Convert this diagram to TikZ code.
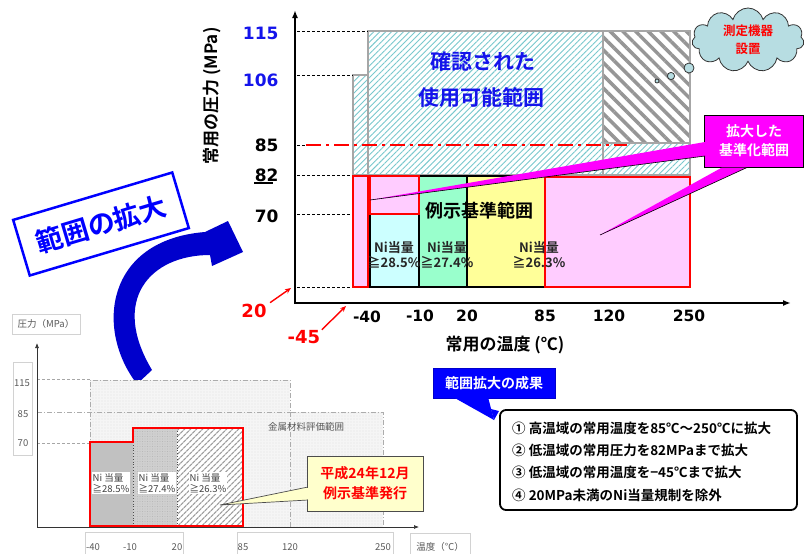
\documentclass[tikz,border=0pt]{standalone}
\usepackage{fontspec}
\setmainfont{DejaVu Sans}
\newfontfamily\jp{Noto Sans CJK JP}[BoldFont={Noto Sans CJK JP Bold}]
\usetikzlibrary{arrows.meta,patterns.meta,shapes.symbols,calc}
\newcommand\fsz[2]{\fontsize{#1}{#2}\selectfont}
\definecolor{pinkc}{RGB}{255,204,255}
\definecolor{cyanc}{RGB}{204,255,255}
\definecolor{greenc}{RGB}{153,255,204}
\definecolor{yellowc}{RGB}{255,255,153}
\definecolor{magc}{RGB}{255,0,255}
\definecolor{grayb}{RGB}{166,166,166}
\definecolor{hatchc}{RGB}{120,200,205}
\definecolor{darkhatch}{RGB}{150,150,150}
\definecolor{cloudc}{RGB}{183,221,226}
\definecolor{txtblue}{RGB}{20,20,235}
\definecolor{arrowblue}{RGB}{0,0,204}
\definecolor{calloutblue}{RGB}{0,0,255}
\definecolor{lyellow}{RGB}{255,255,204}
\begin{document}
\begin{tikzpicture}[x=1pt,y=-1pt,
  ax/.style={line width=1.6pt,black},
  tdash/.style={black,line width=0.8pt,dash pattern=on 3pt off 2pt},
  ylab/.style={font=\bfseries\fsz{17}{20},anchor=east},
  xlab/.style={font=\bfseries\fsz{15.5}{18}},
  redlab/.style={font=\bfseries\fsz{18}{20},text=red},
  redarrow/.style={red,line width=1.4pt,-{Stealth[length=6pt,width=5pt]}},
  ni/.style={font=\jp\bfseries\fsz{13}{15},align=center,text=black!85,inner sep=0pt},
  boxline/.style={black,line width=1.1pt},
  redbox/.style={red,line width=2pt},
  small/.style={font=\jp\fsz{9.5}{11},text=black!65,inner sep=1pt},
  smallbox/.style={draw=gray!35,line width=0.6pt},
  sdash/.style={gray!70,line width=0.8pt,dash pattern=on 3pt off 2pt}]
\useasboundingbox (0,0) rectangle (809,554);

% ================= main chart =================
% usable range (light hatch)
\path[fill=white] (353,175) -- (353,75) -- (368,75) -- (368,31) -- (690,31) -- (690,175) -- cycle;
\path[pattern={Lines[angle=45,distance=4.2pt,line width=0.9pt]},pattern color=hatchc]
  (353,175) -- (353,75) -- (368,75) -- (368,31) -- (690,31) -- (690,175) -- cycle;
\fill[white] (603,31) rectangle (690,143);
\path[pattern={Lines[angle=-45,distance=9pt,line width=3.5pt]},pattern color=darkhatch] (603,31) rectangle (690,143);
\draw[grayb,line width=2.6pt] (353,175) -- (353,75) -- (368,75) -- (368,31) -- (690,31) -- (690,175) -- cycle;
\draw[grayb,line width=2pt] (368,75) -- (368,175) (603,31) -- (603,175) (603,143) -- (690,143);

% dashed tick lines
\draw[tdash] (297,31) -- (368,31);
\draw[tdash] (297,75) -- (353,75);
\draw[tdash] (297,145) -- (306,145);
\draw[tdash] (297,175) -- (353,175);
\draw[tdash] (297,214) -- (370,214);
\draw[tdash] (297,287) -- (353,287);
\draw[red,line width=1.8pt,dash pattern=on 15pt off 5pt on 3pt off 5pt] (306,145) -- (627,145);

% coloured ranges
\draw[boxline,fill=cyanc] (370,214) rectangle (419,287);
\draw[boxline,fill=greenc] (419,176) rectangle (467,287);
\draw[boxline,fill=yellowc] (467,176) rectangle (545,287);
\draw[redbox,fill=pinkc] (353,176) rectangle (368,287);
\draw[redbox,fill=pinkc] (370,176) rectangle (419,214);
\draw[redbox,fill=pinkc] (545,177) rectangle (690,287);

\node[font=\jp\bfseries\fsz{21}{24},text=txtblue] (kakunin) at (483,62) {確認された};
\node[font=\jp\bfseries\fsz{21}{24},text=txtblue] (shiyou) at (481,97) {使用可能範囲};
\node[font=\jp\bfseries\fsz{18}{20}] (reiji) at (479,211) {例示基準範囲};
\node[ni] (ni1) at (394,255) {Ni当量\\≧28.5\%};
\node[ni] (ni2) at (447,255) {Ni当量\\≧27.4\%};
\node[ni] (ni3) at (539,255) {Ni当量\\≧26.3\%};

% axes
\coordinate (ytop) at (295,10);
\coordinate (xend) at (791,303);
\draw[ax,{Latex[length=8pt,width=6pt]}-{Latex[length=8pt,width=6pt]}] (ytop) |- (xend);

% axis labels
\node[ylab,text=txtblue] (y115) at (282,33) {115};
\node[ylab,text=txtblue] (y106) at (282,80) {106};
\node[ylab] (y85) at (282,145) {85};
\node[ylab] (y82) at (282,175) {82};
\draw[line width=1.2pt] (y82.south west) ++(3,-2) -- ++(19,0);
\node[ylab] (y70) at (282,216) {70};
\node[xlab] (xm40) at (367,317) {-40};
\node[xlab] (xm10) at (420,316) {-10};
\node[xlab] (x20) at (467,316) {20};
\node[xlab] (x85) at (545,316) {85};
\node[xlab] (x120) at (609,316) {120};
\node[xlab] (x250) at (689,316) {250};
\node[font=\jp\bfseries\fsz{17}{20},rotate=90] (ytitle) at (212,96) {常用の圧力 (MPa)};
\node[font=\jp\bfseries\fsz{17}{20}] (xtitle) at (505,345) {常用の温度 (℃)};

% red extension labels
\node[redlab] (r20) at (254,311) {20};
\node[redlab] (rm45) at (304,337) {-45};
\coordinate (p20) at (291,288);
\coordinate (pm45) at (346,306);
\draw[redarrow] (r20.north east) ++(0,2) -- (p20);
\draw[redarrow] (rm45.north east) ++(-2,3) -- (pm45);

% cloud
\node[cloud,cloud puffs=11,cloud ignores aspect,draw=black!80,line width=0.8pt,fill=cloudc,
  minimum width=112pt,minimum height=64pt,inner sep=0pt,align=center,
  font=\jp\bfseries\fsz{12.5}{18},text=red] (cloud) at (748,40) {測定機器\\設置};
\draw[black!80,line width=0.8pt,fill=cloudc] (689,68) circle[radius=5pt];
\draw[black!80,line width=0.8pt,fill=cloudc] (671,76) circle[radius=3.6pt];
\draw[black!80,line width=0.8pt,fill=cloudc] (657,81) circle[radius=2pt];

% magenta callout
\node[draw=black,line width=0.6pt,fill=magc,minimum width=99pt,minimum height=52pt,
  align=center,font=\jp\bfseries\fsz{14}{19},text=white] (mag) at (754,141) {拡大した\\基準化範囲};
\coordinate (tip1) at (370,200);
\coordinate (tip2) at (600,235);
\fill[magc] (tip1) -- (705,142) -- (705,156) -- cycle;
\draw[black,line width=0.6pt] (tip1) -- (705,156);
\fill[magc] (tip2) -- (722,167.5) -- (747,167.5) -- cycle;
\draw[black,line width=0.6pt] (tip2) -- (747,167.5);

% ================= big blue arrow and label =================
\fill[arrowblue] (137,384) .. controls (95,330) and (105,240) .. (205,232) -- (228,221) -- (243,252)
  -- (212,266) -- (210,255) .. controls (150,255) and (110,300) .. (152,370) -- cycle;
\node[draw=calloutblue,line width=2.5pt,fill=white,rotate=16.6,minimum width=166pt,minimum height=58pt,
  font=\jp\bfseries\fsz{27}{30},text=calloutblue] (kakudai) at (101,224) {範囲の拡大};

% ================= small (old) chart =================
\fill[gray!8] (90,527) -- (90,380) -- (290,380) -- (290,412) -- (383,412) -- (383,527) -- cycle;
\path[pattern={Dots[distance=3pt,radius=0.45pt]},pattern color=gray!55]
  (90,527) -- (90,380) -- (290,380) -- (290,412) -- (383,412) -- (383,527) -- cycle;
\draw[gray!65,line width=0.9pt,dash pattern=on 5pt off 2pt on 1pt off 2pt]
  (90,527) -- (90,380) -- (290,380) -- (290,412) -- (383,412) -- (383,527);
\draw[gray!65,line width=0.9pt,dash pattern=on 5pt off 2pt on 1pt off 2pt] (290,412) -- (290,527);
\draw[sdash] (37,379) -- (90,379);
\draw[gray!65,line width=0.9pt,dash pattern=on 5pt off 2pt on 1pt off 2pt] (37,412) -- (290,412);
\draw[sdash] (37,443) -- (90,443);

\fill[gray!45] (90,442) rectangle (133,527);
\path[pattern={Dots[distance=2pt,radius=0.4pt]},pattern color=gray!85] (90,442) rectangle (133,527);
\fill[gray!38] (133,428) rectangle (177,527);
\path[pattern={Dots[distance=2.5pt,radius=0.35pt]},pattern color=gray!65] (133,428) rectangle (177,527);
\fill[white] (177,428) rectangle (243,527);
\path[pattern={Lines[angle=45,distance=4pt,line width=1.3pt]},pattern color=gray!75] (177,428) rectangle (243,527);
\draw[black!70,line width=0.8pt,dotted] (133,442) -- (133,527) (177,428) -- (177,527);
\draw[red,line width=2.2pt] (90,526) -- (90,442) -- (133,442) -- (133,428) -- (243,428) -- (243,526) -- cycle;

\node[small,fill=white,align=left,text=black!75] (sni1) at (111,483) {Ni 当量\\≧28.5\%};
\node[small,fill=white,align=left,text=black!75] (sni2) at (157,483) {Ni 当量\\≧27.4\%};
\node[small,fill=white,align=left,text=black!75] (sni3) at (208,483) {Ni 当量\\≧26.3\%};
\node[small] (kinzoku) at (306,427) {金属材料評価範囲};

% small axes
\coordinate (sytop) at (37,343);
\coordinate (sxend) at (419,527);
\draw[black!80,line width=0.7pt,{Latex[length=5pt,width=4pt]}-{Latex[length=5pt,width=4pt]}] (sytop) |- (sxend);

% small label boxes
\draw[smallbox] (12,314) rectangle (80,334);
\node[small] (satsu) at (46,324) {圧力（MPa）};
\draw[smallbox] (13,362) rectangle (32,455);
\node[small] (s115) at (22,383) {115};
\node[small] (s85) at (23,414) {85};
\node[small] (s70) at (23,443) {70};
\draw[smallbox] (85,532) rectangle (183,558);
\draw[smallbox] (237,532) rectangle (393,558);
\draw[smallbox] (410,533) rectangle (470,558);
\node[small] (sm40) at (93,547) {-40};
\node[small] (sm10) at (130,547) {-10};
\node[small] (s20) at (177,547) {20};
\node[small] (s85x) at (243,547) {85};
\node[small] (s120) at (290,547) {120};
\node[small] (s250) at (383,547) {250};
\node[small] (sondo) at (440,547) {温度（℃）};

% yellow callout
\coordinate (ytip) at (220,505);
\filldraw[fill=lyellow,draw=black!70,line width=0.7pt] (308,487) -- (ytip) -- (308,500);
\node[draw=black!70,line width=0.8pt,fill=lyellow,minimum width=116pt,minimum height=55pt,
  align=center,font=\jp\bfseries\fsz{14}{20},text=red] (heisei) at (365,483.5) {平成24年12月\\例示基準発行};
\fill[lyellow] (307.8,488) -- (307.8,499.5) -- (306,499) -- (306,488.5) -- cycle;

% ================= results =================
\node[fill=calloutblue,draw=blue!80!black,line width=0.6pt,minimum width=122pt,minimum height=30pt,
  font=\jp\bfseries\fsz{14}{16},text=white] (seika) at (494,383) {範囲拡大の成果};
\coordinate (btip) at (494,420);
\fill[calloutblue] (453,397) -- (btip) -- (488,397) -- cycle;
\draw[black,line width=1.8pt,rounded corners=6pt,fill=white] (500,410) rectangle (797,510);
\fill[calloutblue] (btip) -- (491,409) -- (499,411) -- cycle;
\node[anchor=west,align=left,font=\jp\bfseries\fsz{13.5}{22.4},inner sep=0pt] (list) at (512,461.5)
  {① 高温域の常用温度を85℃～250℃に拡大\\② 低温域の常用圧力を82MPaまで拡大\\③ 低温域の常用温度を−45℃まで拡大\\④ 20MPa未満のNi当量規制を除外};
\end{tikzpicture}
\end{document}
